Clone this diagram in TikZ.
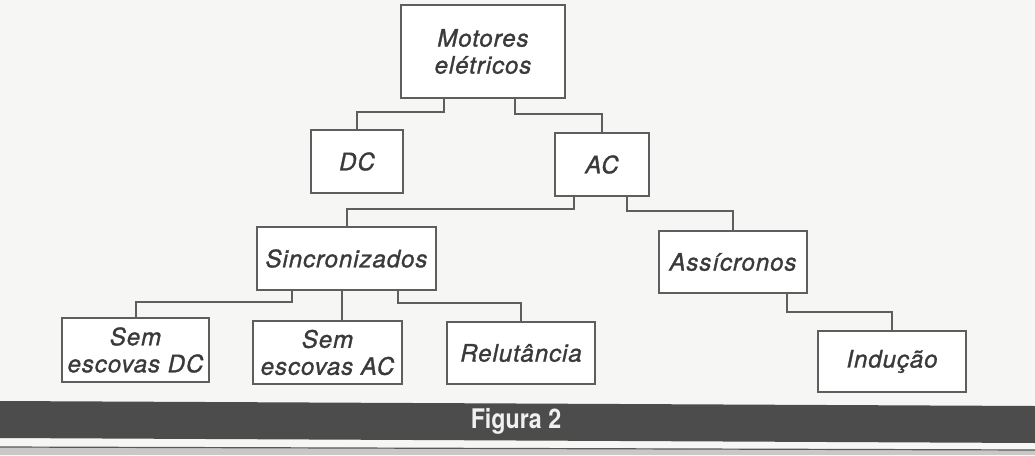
\documentclass[tikz,border=0pt]{standalone}
\usepackage{fontspec}
\usepackage{graphicx}
\setmainfont{TeX Gyre Heros}
\newfontfamily\boxfont{TeX Gyre Heros}[FakeBold=1.2, LetterSpace=4]
\usetikzlibrary{positioning}
\definecolor{paper}{HTML}{F6F6F4}
\definecolor{linec}{HTML}{5E5E5E}
\definecolor{txtc}{HTML}{3A3A3A}
\definecolor{barc}{HTML}{4C4C4C}
\definecolor{stripc}{HTML}{C8C8C6}
\tikzset{
  nbox/.style={draw=linec, line width=2pt, fill=white, inner sep=0pt, text=txtc,
    font=\fontsize{24}{27}\boxfont\itshape, align=center},
  conn/.style={draw=linec, line width=2pt, line cap=rect},
}
\begin{document}
\begin{tikzpicture}[x=1pt, y=-1pt]
\useasboundingbox (0,0) rectangle (1035,455);
\fill[paper] (0,0) rectangle (1035,455);
% bottom band
\fill[barc] (0,401) -- (1035,406) -- (1035,443) -- (0,438) -- cycle;
\fill[stripc] (0,447) -- (1035,450) -- (1035,455) -- (0,455) -- cycle;
\draw[line width=1.2pt, black!65] (0,447) -- (1035,450);
\node[text=white!94!black, font=\fontsize{27}{30}\selectfont\bfseries] (fig) at (516,421) {\scalebox{0.86}[1]{Figura 2}};
% boxes
\node[nbox, minimum width=164pt, minimum height=93pt] (mot) at (483,51.5) {Motores\\elétricos};
\node[nbox, minimum width=92pt, minimum height=63pt] (dc) at (357,161.5) {DC};
\node[nbox, minimum width=94pt, minimum height=63pt] (ac) at (602,164.5) {AC};
\node[nbox, minimum width=179pt, minimum height=63pt] (sinc) at (346.5,258.5) {Sincronizados};
\node[nbox, minimum width=148pt, minimum height=62pt] (ass) at (733,262) {Assícronos};
\node[nbox, minimum width=147pt, minimum height=64pt] (sdc) at (135.5,350) {Sem\\escovas DC};
\node[nbox, minimum width=149pt, minimum height=63pt] (sac) at (327.5,352.5) {Sem\\escovas AC};
\node[nbox, minimum width=148pt, minimum height=62pt] (rel) at (521,353) {Relutância};
\node[nbox, minimum width=148pt, minimum height=61pt] (ind) at (892,361.5) {Indução};
% connectors
\draw[conn] ([xshift=44pt]mot.south west) -- ++(0,13) -| (dc.north);
\draw[conn] ([xshift=-51pt]mot.south east) -- ++(0,15) -| (ac.north);
\draw[conn] ([xshift=20pt]ac.south west) -- ++(0,12) -| (sinc.north);
\draw[conn] ([xshift=-23pt]ac.south east) -- ++(0,14) -| (ass.north);
\draw[conn] ([xshift=36pt]sinc.south west) -- ++(0,11) -| (sdc.north);
\draw[conn] ([xshift=86pt]sinc.south west) coordinate (t1) -- (t1 |- sac.north);
\draw[conn] ([xshift=-39pt]sinc.south east) -- ++(0,12) -| (rel.north);
\draw[conn] ([xshift=-21pt]ass.south east) -- ++(0,18) -| (ind.north);
\end{tikzpicture}
\end{document}
